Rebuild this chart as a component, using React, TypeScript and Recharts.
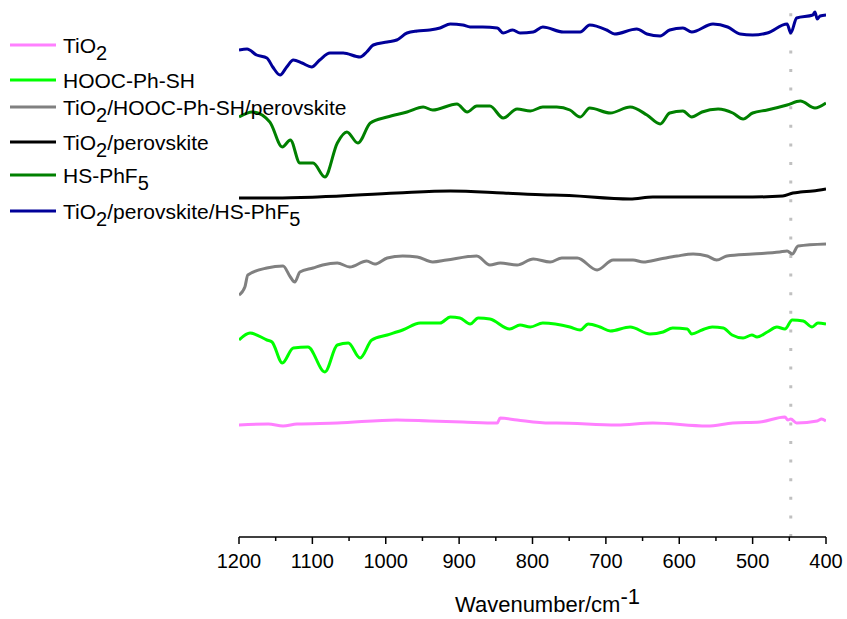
import React from "react";
import { LineChart, Line, XAxis, YAxis, ReferenceLine } from "recharts";

// wavenumber (cm-1) vs. offset transmittance (a.u.)
const tio2 = [
  [1200, 11.2], [1160, 11.3], [1140, 11.1], [1121, 11.3], [1066, 11.4], [985, 11.7], [940, 11.6],
  [895, 11.5], [848, 11.4], [844, 11.9], [821, 11.7], [776, 11.4], [767, 11.4], [685, 11.2],
  [636, 11.4], [562, 11.1], [527, 11.4], [490, 11.5], [456, 12.0], [452, 11.7], [448, 11.8],
  [440, 11.4], [412, 11.6], [406, 11.8], [400, 11.6],
];

const hooc = [
  [1200, 19.7], [1185, 20.4], [1162, 19.7], [1155, 19.5], [1141, 17.4], [1126, 18.9], [1106, 19.0],
  [1083, 16.5], [1066, 19.2], [1051, 19.4], [1035, 17.9], [1019, 19.7], [998, 20.2], [977, 20.7],
  [953, 21.4], [926, 21.4], [912, 22.0], [899, 21.9], [885, 21.3], [874, 21.9], [858, 21.8],
  [831, 20.8], [817, 21.2], [803, 21.0], [786, 21.4], [749, 21.0], [735, 20.7], [724, 21.3],
  [708, 21.0], [694, 20.6], [667, 21.0], [640, 20.3], [622, 20.5], [609, 20.9], [589, 20.8],
  [583, 20.3], [569, 20.7], [555, 21.0], [540, 20.9], [528, 20.2], [513, 19.9], [501, 20.2],
  [494, 20.0], [480, 20.5], [467, 21.0], [456, 20.8], [446, 21.7], [431, 21.6], [419, 21.0],
  [411, 21.4], [400, 21.3],
];

const tio2HoocPerov = [
  [1200, 24.2], [1192, 25.0], [1188, 26.2], [1162, 26.9], [1140, 27.1], [1130, 26.0], [1124, 25.5],
  [1117, 26.5], [1099, 26.9], [1086, 27.2], [1066, 27.4], [1049, 27.0], [1026, 27.6], [1015, 27.3],
  [998, 27.9], [977, 28.1], [957, 28.0], [936, 27.5], [917, 27.7], [876, 28.1], [858, 27.2],
  [844, 27.4], [821, 27.2], [799, 27.8], [776, 27.5], [760, 27.9], [739, 27.9], [712, 26.7],
  [690, 27.7], [663, 27.7], [649, 27.5], [626, 27.8], [603, 28.1], [581, 28.3], [562, 28.1],
  [549, 27.7], [535, 28.1], [500, 28.3], [463, 28.5], [453, 28.6], [446, 28.3], [438, 29.1],
  [400, 29.3],
];

const tio2Perov = [
  [1200, 33.9], [1150, 33.9], [1093, 34.0], [985, 34.4], [912, 34.6], [840, 34.4], [780, 34.2],
  [772, 34.2], [667, 33.8], [636, 34.0], [500, 34.0], [459, 34.1], [445, 34.4], [435, 34.5],
  [418, 34.6], [400, 34.8],
];

const hsPhf5 = [
  [1200, 42.0], [1182, 42.5], [1158, 41.5], [1141, 39.0], [1130, 39.7], [1117, 37.4], [1099, 37.4],
  [1083, 36.0], [1066, 39.4], [1053, 40.5], [1038, 39.4], [1021, 41.4], [998, 42.0], [971, 42.5],
  [949, 43.0], [936, 42.7], [903, 43.3], [889, 42.5], [876, 43.1], [858, 43.1], [840, 41.9],
  [821, 42.8], [803, 42.6], [786, 43.0], [767, 43.0], [749, 42.7], [735, 42.0], [722, 42.9],
  [694, 42.4], [667, 43.0], [644, 42.2], [626, 41.3], [613, 42.4], [595, 42.6], [583, 42.0],
  [569, 42.5], [547, 42.8], [527, 42.4], [513, 41.8], [500, 42.4], [480, 42.7], [453, 43.2],
  [435, 43.6], [415, 42.9], [400, 43.4],
];

const tio2PerovHs = [
  [1200, 48.7], [1189, 48.8], [1176, 48.2], [1162, 47.9], [1154, 47.0], [1144, 46.2], [1135, 47.0],
  [1126, 47.7], [1114, 47.4], [1101, 47.0], [1090, 47.7], [1076, 48.4], [1058, 48.4], [1035, 48.0],
  [1026, 48.5], [1017, 49.2], [998, 49.5], [985, 49.7], [971, 50.4], [957, 50.6], [940, 50.7],
  [926, 50.9], [912, 51.3], [895, 51.2], [885, 51.0], [868, 51.0], [848, 50.9], [840, 50.4],
  [827, 50.7], [817, 50.4], [799, 50.5], [786, 51.0], [758, 50.5], [735, 50.5], [722, 51.2],
  [699, 50.7], [688, 50.3], [658, 50.8], [644, 50.3], [626, 50.1], [613, 50.7], [595, 50.9],
  [583, 50.5], [554, 51.3], [534, 51.0], [517, 50.3], [500, 50.2], [480, 50.4], [453, 51.3],
  [448, 50.4], [440, 51.9], [418, 52.2], [415, 52.5], [412, 51.8], [408, 52.1], [400, 52.2],
];

const xTicks = [1200, 1150, 1100, 1050, 1000, 950, 900, 850, 800, 750, 700, 650, 600, 550, 500, 450, 400];
const markerWn = 448;

const seriesNames = [
  "TiO_2",
  "HOOC-Ph-SH",
  "TiO_2/HOOC-Ph-SH/perovskite",
  "TiO_2/perovskite",
  "HS-PhF_5",
  "TiO_2/perovskite/HS-PhF_5",
];
const seriesColors = ["#FF80FF", "#00FF00", "#808080", "#000000", "#008000", "#000099"];
const seriesData = [tio2, hooc, tio2HoocPerov, tio2Perov, hsPhf5, tio2PerovHs];

const legendRowY = [45, 80, 107, 142, 175, 211];
const FONT = "Arial, 'Liberation Sans', sans-serif";

const toRows = (pts: number[][]) => pts.map(([wn, v]) => ({ wn, v }));

// "TiO_2" -> TiO with subscript 2
const renderName = (name: string) => {
  const parts = name.split(/_(\d)/);
  return parts.map((p, i) =>
    i % 2 === 1 ? (
      <tspan key={i} dy={7} fontSize={20}>{p}</tspan>
    ) : (
      <tspan key={i} dy={i === 0 ? 0 : -7}>{p}</tspan>
    )
  );
};

const LegendBox = () => (
  <svg width={380} height={230} style={{ position: "absolute", left: 0, top: 0 }}>
    {seriesNames.map((name, i) => (
      <g key={name}>
        <line x1={10} x2={56} y1={legendRowY[i]} y2={legendRowY[i]} stroke={seriesColors[i]} strokeWidth={3} />
        <text x={63} y={legendRowY[i] + 7.5} fontSize={21} fontFamily={FONT} fill="#000">
          {renderName(name)}
        </text>
      </g>
    ))}
  </svg>
);

const WnTick = (props: any) => {
  const { x, y, payload } = props;
  const major = payload.value % 100 === 0;
  return (
    <g>
      <line x1={x} x2={x} y1={y} y2={y + (major ? 7 : 4)} stroke="#000" strokeWidth={1.5} />
      {major && (
        <text x={x} y={y + 31} textAnchor="middle" fontSize={20} fontFamily={FONT} fill="#000">
          {payload.value}
        </text>
      )}
    </g>
  );
};

const AxisTitle = (props: any) => {
  const vb = props.viewBox || { x: 239, y: 537, width: 587, height: 82 };
  const cx = vb.x + vb.width / 2 + 15;
  return (
    <text x={cx} y={vb.y + 75} textAnchor="middle" fontSize={22} fontFamily={FONT} fill="#000">
      Wavenumber/cm
      <tspan dy={-8}>-1</tspan>
    </text>
  );
};

export default function App() {
  return (
    <div style={{ position: "absolute", left: 0, top: 0, width: 847, height: 619, background: "#fff" }}>
      <LineChart width={847} height={619} margin={{ top: 7, right: 21, left: 239, bottom: 0 }}>
        <XAxis
          dataKey="wn"
          type="number"
          domain={[400, 1200]}
          reversed
          ticks={xTicks}
          interval={0}
          tick={<WnTick />}
          tickLine={false}
          tickSize={0}
          tickMargin={0}
          axisLine={{ stroke: "#000", strokeWidth: 1.5 }}
          height={82}
          allowDataOverflow
          label={{ content: <AxisTitle /> }}
        />
        <YAxis type="number" domain={[0, 53]} hide width={0} allowDataOverflow />
        <ReferenceLine x={markerWn} stroke="#C0C0C0" strokeWidth={3} strokeDasharray="3 15.6" />
        {seriesData.map((d, i) => (
          <Line
            key={seriesNames[i]}
            data={toRows(d)}
            dataKey="v"
            type="monotone"
            stroke={seriesColors[i]}
            strokeWidth={3}
            dot={false}
            activeDot={false}
            isAnimationActive={false}
          />
        ))}
      </LineChart>
      <LegendBox />
    </div>
  );
}
